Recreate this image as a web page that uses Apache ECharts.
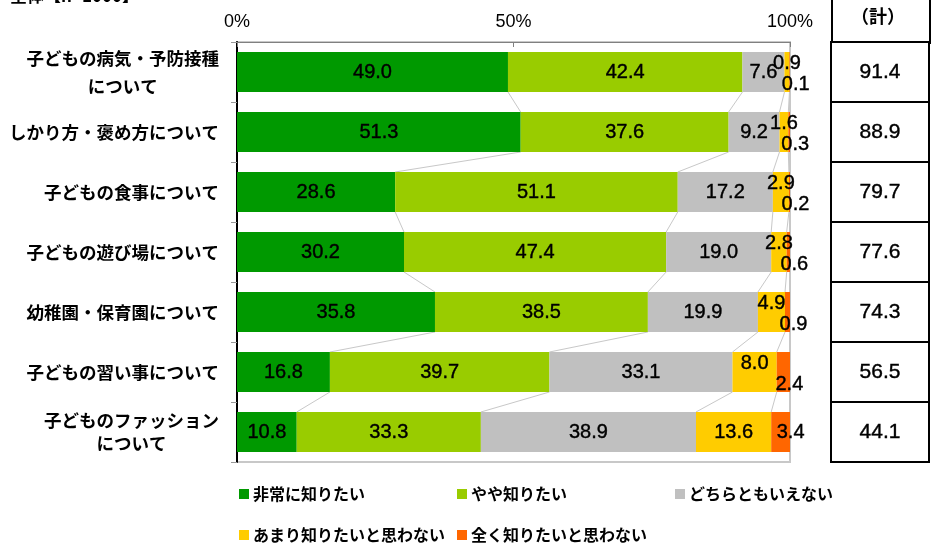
<!DOCTYPE html>
<html>
<head>
<meta charset="utf-8">
<script src="https://cdn.jsdelivr.net/npm/echarts@6/dist/echarts.min.js"></script>
<style>
  html, body { margin: 0; padding: 0; background: #fff; }
  #chart { width: 933px; height: 543px; }
</style>
</head>
<body>
<div id="chart"></div>
<script>
// Survey: what parents want to know (全体 n=1000), shares in %
const categories = [
  '子どもの病気・予防接種\nについて',
  'しかり方・褒め方について',
  '子どもの食事について',
  '子どもの遊び場について',
  '幼稚園・保育園について',
  '子どもの習い事について',
  '子どものファッション\nについて'
];
const seriesNames = ['非常に知りたい', 'やや知りたい', 'どちらともいえない', 'あまり知りたいと思わない', '全く知りたいと思わない'];
const veryMuch = [49.0, 51.3, 28.6, 30.2, 35.8, 16.8, 10.8];
const somewhat = [42.4, 37.6, 51.1, 47.4, 38.5, 39.7, 33.3];
const neither  = [7.6, 9.2, 17.2, 19.0, 19.9, 33.1, 38.9];
const notMuch  = [0.9, 1.6, 2.9, 2.8, 4.9, 8.0, 13.6];
const notAtAll = [0.1, 0.3, 0.2, 0.6, 0.9, 2.4, 3.4];
const totals   = [91.4, 88.9, 79.7, 77.6, 74.3, 56.5, 44.1];
const axisTicks = [0, 50, 100];

const colors = ['#009900', '#99cc00', '#c0c0c0', '#ffcc00', '#ff6600'];
const seriesValues = [veryMuch, somewhat, neither, notMuch, notAtAll];

const JP = '"Noto Sans CJK JP", sans-serif';
const NUM = '"Liberation Sans", Arial, sans-serif';
const BAR_RATIO = 2 / 3;

const chart = echarts.init(document.getElementById('chart'), null, { renderer: 'canvas' });

// label placement: thin end segments get their labels nudged off the bar
function labelFor(s, i) {
  if (s === 3) {
    return notAtAll[i] < 3 ? { offset: [0, -9] } : {};
  }
  if (s === 4) {
    return notAtAll[i] < 3 ? { offset: [6, 12] } : { offset: [10, 0] };
  }
  return {};
}

const barSeries = seriesValues.map((vals, s) => ({
  name: seriesNames[s],
  type: 'bar',
  stack: 'all',
  barWidth: (BAR_RATIO * 100) + '%',
  itemStyle: { color: colors[s] },
  label: {
    show: true,
    position: 'inside',
    color: '#000',
    fontFamily: NUM,
    fontSize: 20,
    textBorderColor: '#000',
    textBorderWidth: 0.4,
    formatter: p => p.value.toFixed(1)
  },
  data: vals.map((v, i) => ({ value: v, label: labelFor(s, i) })),
  z: 3
}));

// series lines: join each cumulative boundary between neighbouring bars
const cumulative = categories.map((_, i) => {
  let acc = 0;
  return seriesValues.map(vals => (acc += vals[i]));
});
const seriesLineData = [];
for (let i = 0; i < categories.length - 1; i++) {
  for (let k = 0; k < 4; k++) {
    seriesLineData.push([cumulative[i][k], i, cumulative[i + 1][k]]);
  }
}

const seriesLines = {
  type: 'custom',
  silent: true,
  xAxisIndex: 0,
  yAxisIndex: 0,
  encode: { x: [0, 2], y: 1 },
  data: seriesLineData,
  renderItem: (params, api) => {
    const row = api.value(1);
    const a = api.coord([api.value(0), row]);
    const b = api.coord([api.value(2), row + 1]);
    const half = api.size([0, 1])[1] * BAR_RATIO / 2;
    return {
      type: 'line',
      shape: { x1: a[0], y1: a[1] + half, x2: b[0], y2: b[1] - half },
      style: { stroke: '#c8c8c8', lineWidth: 1 }
    };
  },
  z: 2
};

// totals column (計) beside the bars, one cell per category band
const totalsTable = {
  type: 'custom',
  silent: true,
  xAxisIndex: 1,
  yAxisIndex: 1,
  encode: { x: 0, y: 1 },
  data: totals.map((v, i) => [0, i, v]),
  renderItem: (params, api) => {
    const row = api.value(1);
    const left = api.coord([0, row]);
    const right = api.coord([1, row]);
    const bandH = api.size([0, 1])[1];
    return {
      type: 'group',
      children: [
        {
          type: 'rect',
          shape: { x: left[0], y: left[1] - bandH / 2, width: right[0] - left[0], height: bandH },
          style: { fill: '#fff', stroke: '#000', lineWidth: 2 }
        },
        {
          type: 'text',
          style: {
            x: (left[0] + right[0]) / 2,
            y: left[1],
            text: api.value(2).toFixed(1),
            align: 'center',
            verticalAlign: 'middle',
            fill: '#000',
            stroke: '#000',
            lineWidth: 0.4,
            font: '21px ' + NUM
          }
        }
      ]
    };
  }
};

const legendPos = [[234, 481], [452, 481], [670, 481], [234, 522], [452, 522]];

const option = {
  animation: false,
  backgroundColor: '#fff',
  textStyle: { fontFamily: JP },
  grid: [
    { left: 237, right: 143, top: 42, bottom: 81, show: true, borderColor: '#c8c8c8', borderWidth: 2, backgroundColor: 'transparent' },
    { left: 831, width: 98, top: 42, bottom: 81 }
  ],
  xAxis: [
    {
      type: 'value',
      position: 'top',
      min: axisTicks[0],
      max: axisTicks[axisTicks.length - 1],
      interval: axisTicks[1] - axisTicks[0],
      axisLine: { show: true, lineStyle: { color: '#808080', width: 1 } },
      axisTick: { show: true, inside: true, length: 5, lineStyle: { color: '#808080' } },
      splitLine: { show: false },
      axisLabel: { color: '#000', fontFamily: NUM, fontSize: 18, margin: 11, formatter: '{value}%' }
    },
    { type: 'value', gridIndex: 1, min: 0, max: 1, show: false }
  ],
  yAxis: [
    {
      type: 'category',
      inverse: true,
      data: categories,
      axisLine: { show: true, lineStyle: { color: '#000', width: 2 } },
      axisTick: { show: true, length: 6, lineStyle: { color: '#999' } },
      axisLabel: {
        margin: 18,
        align: 'right',
        formatter: (v, idx) => v.split('\n').map(line => '{' + (idx === 0 ? 'w' : 'c') + '|' + line + '}').join('\n'),
        rich: {
          c: { align: 'center', fontFamily: JP, fontWeight: 'bold', fontSize: 17.5, color: '#000', lineHeight: 23 },
          w: { align: 'center', fontFamily: JP, fontWeight: 'bold', fontSize: 17.5, color: '#000', lineHeight: 28 }
        }
      }
    },
    { type: 'category', gridIndex: 1, inverse: true, data: categories, show: false }
  ],
  legend: legendPos.map((pos, s) => ({
    data: [seriesNames[s]],
    left: pos[0],
    top: pos[1],
    icon: 'rect',
    itemWidth: 10,
    itemHeight: 10,
    itemGap: 0,
    selectedMode: false,
    textStyle: { fontFamily: JP, fontWeight: 'bold', fontSize: 16, color: '#000', padding: [0, 0, 0, -1] }
  })),
  graphic: [
    {
      type: 'text',
      left: 10,
      top: -13,
      style: { text: '全体【n=1000】', font: 'bold 17px ' + JP, fill: '#000' }
    },
    {
      type: 'rect',
      left: 831,
      top: -10,
      shape: { width: 98, height: 52 },
      style: { fill: '#fff', stroke: '#000', lineWidth: 2 }
    },
    {
      type: 'text',
      left: 851,
      top: 7,
      style: { text: '（計）', font: 'bold 18px ' + JP, fill: '#000' }
    }
  ],
  series: [...barSeries, seriesLines, totalsTable]
};

chart.setOption(option);
</script>
</body>
</html>
